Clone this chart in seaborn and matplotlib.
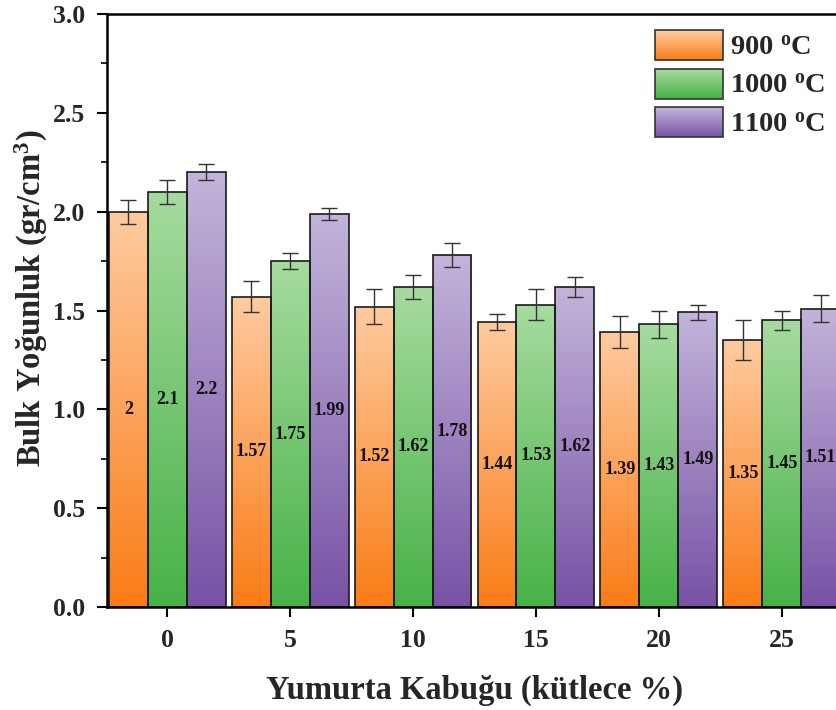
import numpy as np
import pandas as pd
import matplotlib
matplotlib.use("Agg")
import matplotlib.pyplot as plt
import seaborn as sns
from matplotlib.colors import LinearSegmentedColormap, to_rgb
from matplotlib.patches import Rectangle
from matplotlib.legend_handler import HandlerBase

# ---- data ----
groups = ["0", "5", "10", "15", "20", "25"]
temps = ["900", "1000", "1100"]
vals_900 = [2.00, 1.57, 1.52, 1.44, 1.39, 1.35]
vals_1000 = [2.10, 1.75, 1.62, 1.53, 1.43, 1.45]
vals_1100 = [2.20, 1.99, 1.78, 1.62, 1.49, 1.51]
err_900 = [0.06, 0.08, 0.09, 0.04, 0.08, 0.10]
err_1000 = [0.06, 0.04, 0.06, 0.08, 0.07, 0.05]
err_1100 = [0.04, 0.03, 0.06, 0.05, 0.04, 0.07]
labels_900 = ["2", "1.57", "1.52", "1.44", "1.39", "1.35"]
labels_1000 = ["2.1", "1.75", "1.62", "1.53", "1.43", "1.45"]
labels_1100 = ["2.2", "1.99", "1.78", "1.62", "1.49", "1.51"]

values = [vals_900, vals_1000, vals_1100]
errors = [err_900, err_1000, err_1100]
labels = [labels_900, labels_1000, labels_1100]

# gradient colours (top, bottom)
grad_colors = [("#FECBA0", "#FA7C16"), ("#A6DB9F", "#47B247"), ("#C2B4DA", "#7852A5")]

rows = []
for t, vs in zip(temps, values):
    for g, v in zip(groups, vs):
        rows.append({"group": g, "temp": t, "value": v})
df = pd.DataFrame(rows)

sns.set_theme(style="white")
plt.rcParams["font.family"] = ["Liberation Serif", "DejaVu Serif"]
plt.rcParams["font.weight"] = "bold"
plt.rcParams["mathtext.fontset"] = "custom"
plt.rcParams["mathtext.rm"] = "Liberation Serif:bold"
plt.rcParams["mathtext.bf"] = "Liberation Serif:bold"
plt.rcParams["mathtext.it"] = "Liberation Serif:bold"

fig = plt.figure(figsize=(8.36, 7.10), dpi=100)
ax = fig.add_axes([107 / 836, 1 - 607 / 710, (842 - 107) / 836, (607 - 14) / 710])

sns.barplot(data=df, x="group", y="value", hue="temp", order=groups, hue_order=temps,
            width=0.95, errorbar=None, edgecolor="#1a1a1a", linewidth=1.2,
            legend=False, ax=ax)

xlim = (-0.49, 5.49)
ylim = (0, 3.0)

bar_containers = list(ax.containers)
for k, cont in enumerate(bar_containers):
    top, bot = grad_colors[k]
    cmap = LinearSegmentedColormap.from_list(f"g{k}", [bot, top])
    grad = np.linspace(0, 1, 256).reshape(-1, 1)
    xs, ys = [], []
    for i, bar in enumerate(cont):
        x0 = bar.get_x()
        w = bar.get_width()
        h = bar.get_height()
        im = ax.imshow(grad, extent=[x0, x0 + w, 0, h], origin="lower", aspect="auto",
                       cmap=cmap, zorder=1.5, interpolation="bicubic")
        im.set_clip_path(bar)
        bar.set_facecolor("none")
        bar.set_zorder(2)
        xs.append(x0 + w / 2)
        ys.append(h)
        ax.text(x0 + w / 2, h / 2, labels[k][i], ha="center", va="center",
                fontsize=13, fontweight="bold", color="#111111", zorder=4)
    ax.errorbar(xs, ys, yerr=errors[k], fmt="none", ecolor="#333333", elinewidth=1,
                capsize=6, capthick=1, zorder=3)

ax.set_xlim(*xlim)
ax.set_ylim(*ylim)

ax.set_yticks(np.arange(0, 3.01, 0.5))
ax.set_yticks(np.arange(0, 3.01, 0.25), minor=True)
ax.set_yticklabels([f"{v:.1f}" for v in np.arange(0, 3.01, 0.5)])
ax.tick_params(axis="both", which="major", direction="out", length=7.5, width=1.5,
               labelsize=18.5, color="black", bottom=True, left=True, pad=8)
ax.tick_params(axis="y", which="minor", direction="out", length=4.5, width=1.2,
               left=True, color="black")
for lab in ax.get_xticklabels() + ax.get_yticklabels():
    lab.set_fontweight("bold")

for s in ["left", "bottom", "top", "right"]:
    ax.spines[s].set_linewidth(1.8)
    ax.spines[s].set_color("black")

ax.set_xlabel("Yumurta Kabuğu (kütlece %)", fontsize=23.5, fontweight="bold", labelpad=17)
ax.set_ylabel("Bulk Yoğunluk (gr/cm$^3$)", fontsize=23.5, fontweight="bold")
ax.yaxis.set_label_coords(-0.077, 0.52)


class GradHandler(HandlerBase):
    def __init__(self, top, bottom):
        super().__init__()
        self.top = np.array(to_rgb(top))
        self.bottom = np.array(to_rgb(bottom))

    def create_artists(self, legend, orig_handle, xdescent, ydescent, width, height,
                       fontsize, trans):
        arts = []
        n = 40
        for i in range(n):
            f = i / (n - 1)
            c = self.bottom * (1 - f) + self.top * f
            r = Rectangle((-xdescent, -ydescent + height * i / n), width, height / n * 1.1,
                          facecolor=c, edgecolor="none", transform=trans)
            arts.append(r)
        arts.append(Rectangle((-xdescent, -ydescent), width, height, facecolor="none",
                              edgecolor="#333333", lw=1.2, transform=trans))
        return arts


handles = [Rectangle((0, 0), 1, 1) for _ in temps]
leg_labels = [f"{t} $^{{\\mathbf{{o}}}}$C" for t in temps]
hmap = {h: GradHandler(*grad_colors[i]) for i, h in enumerate(handles)}
fig.legend(handles, leg_labels, handler_map=hmap, loc="upper left",
           bbox_to_anchor=(655 / 836, 1 - 30 / 710), bbox_transform=fig.transFigure,
           frameon=False, borderpad=0, borderaxespad=0, handlelength=2.4,
           handleheight=1.25, labelspacing=0.28, handletextpad=0.25,
           prop={"family": "Liberation Serif", "weight": "bold", "size": 20.5})

fig.savefig("out.png", dpi=100)
